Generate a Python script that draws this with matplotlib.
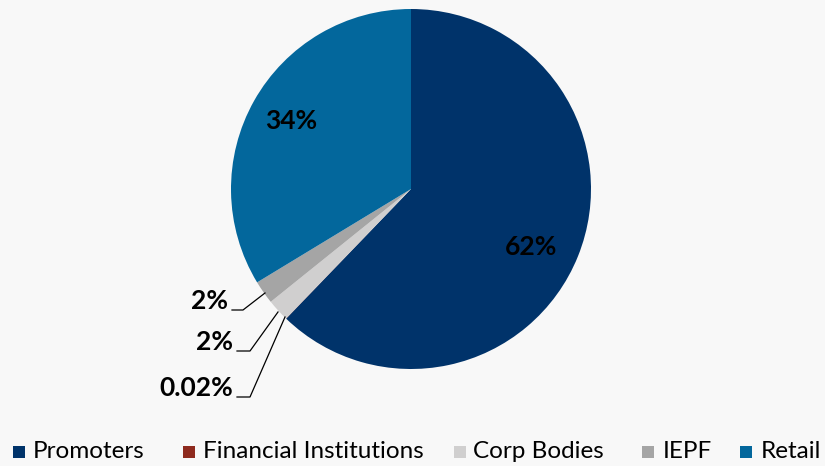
import matplotlib
matplotlib.use("Agg")
import matplotlib.pyplot as plt
from matplotlib.patches import Rectangle

categories = ["Promoters", "Financial Institutions", "Corp Bodies", "IEPF", "Retail"]
values = [62.2, 0.02, 2.0, 2.1, 33.68]
labels = ["62%", "0.02%", "2%", "2%", "34%"]
colors = ["#00336A", "#8E2A1E", "#D0CFCF", "#A5A5A5", "#03679C"]

plt.rcParams['font.family'] = ['Lato', 'DejaVu Sans']

fig = plt.figure(figsize=(8.25, 4.66), dpi=100)
fig.patch.set_facecolor("#f8f8f8")
W, H = 825, 466
cx, cy, r = 411, 189, 180
ax = fig.add_axes([(cx - r) / W, (H - cy - r) / H, 2 * r / W, 2 * r / H])
ax.set_facecolor("none")
wedges, _ = ax.pie(values, colors=colors, startangle=90, counterclock=False,
                   radius=1.0, wedgeprops=dict(linewidth=0))
ax.set_xlim(-1, 1)
ax.set_ylim(-1, 1)
ax.set_aspect("equal")
ax.axis("off")

def px(x, y):
    return ((x - cx) / r, (cy - y) / r)

lblsize = 19
ax.text(*px(531, 247), labels[0], ha="center", va="center", fontsize=lblsize, fontweight="bold", color="black")
ax.text(*px(291, 121), labels[4], ha="center", va="center", fontsize=lblsize, fontweight="bold", color="black")

outside = [
    (labels[3], 228, 301, 232, 310, 243, 265, 293),
    (labels[2], 233, 342, 237, 351, 250, 278, 312),
    (labels[1], 233, 388, 237, 397, 250, 285, 317),
]
for lab, tx, ty, lx0, ly, kx, ex, ey in outside:
    ax.text(*px(tx, ty), lab, ha="right", va="center", fontsize=lblsize, fontweight="bold", color="black")
    xs, ys = zip(px(lx0, ly), px(kx, ly), px(ex, ey))
    ax.plot(xs, ys, color="black", linewidth=0.9, clip_on=False)

# legend, laid out in pixels
sq_x = [13, 183, 454, 642, 740]
txt_x = [33, 203, 473, 663, 761]
leg_y = 452
sq = 12
for c, name, x, tx in zip(colors, categories, sq_x, txt_x):
    fig.patches.append(Rectangle((x / W, (H - leg_y - sq / 2) / H), sq / W, sq / H,
                                 transform=fig.transFigure, facecolor=c, edgecolor="none"))
    fig.text(tx / W, (H - leg_y + 0.5) / H, name, ha="left", va="center",
             fontsize=17.5, color="black")

fig.savefig("out.png", dpi=100, facecolor=fig.get_facecolor())
